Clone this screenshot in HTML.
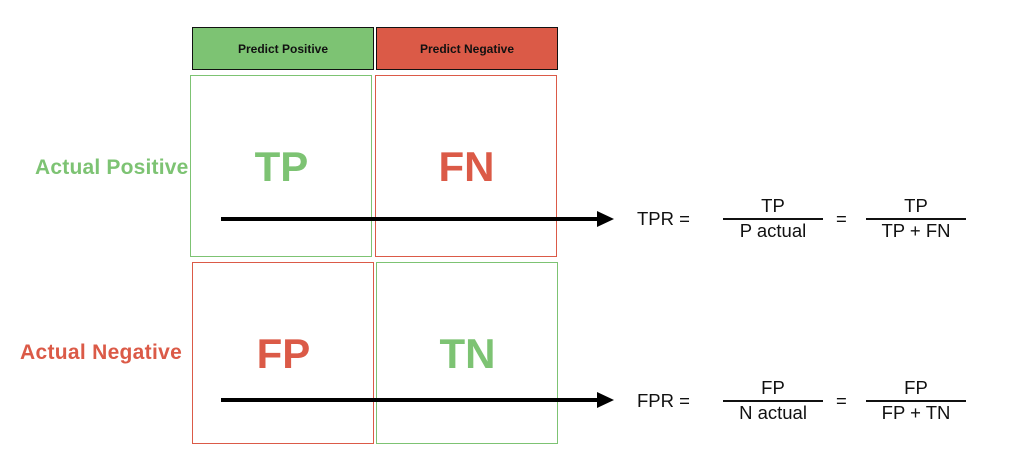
<!DOCTYPE html>
<html><head><style>
body{margin:0;width:1028px;height:472px;background:#fff;position:relative;font-family:"Liberation Sans",sans-serif;overflow:hidden}
div{position:absolute;box-sizing:border-box}
.h{height:43px;border:1.5px solid #111;font-weight:bold;font-size:12px;display:flex;align-items:center;justify-content:center;color:#111}
.c{width:182px;height:182px;border:1px solid}
.big{font-size:42px;font-weight:bold;width:183px;text-align:center}
.lab{font-size:21px;font-weight:bold}
.t{font-size:18.5px;color:#111;text-align:center}
.ln{height:1.5px;background:#111}
</style></head><body>
<div class="h" style="left:192px;top:27px;width:182px;background:#7DC373">Predict Positive</div>
<div class="h" style="left:376px;top:27px;width:182px;background:#DB5A47">Predict Negative</div>
<div class="c" style="left:190px;top:75px;border-color:#7DC373"></div>
<div class="c" style="left:375px;top:75px;border-color:#DB5A47"></div>
<div class="c" style="left:192px;top:262px;border-color:#DB5A47"></div>
<div class="c" style="left:376px;top:262px;border-color:#7DC373"></div>
<div class="big" style="left:190px;top:143px;color:#7DC373">TP</div>
<div class="big" style="left:375px;top:143px;color:#DB5A47">FN</div>
<div class="big" style="left:192px;top:330px;color:#DB5A47">FP</div>
<div class="big" style="left:376px;top:330px;color:#7DC373">TN</div>
<div class="lab" style="left:35px;top:156px;color:#7DC373;width:152px;white-space:nowrap;letter-spacing:0.2px">Actual Positive</div>
<div class="lab" style="left:20px;top:341px;color:#DB5A47;white-space:nowrap;letter-spacing:0.3px">Actual Negative</div>
<svg style="position:absolute;left:0;top:0" width="1028" height="472">
<line x1="221" y1="219" x2="600" y2="219" stroke="#000" stroke-width="4"/>
<polygon points="597,211 614,219 597,227" fill="#000"/>
<line x1="221" y1="400" x2="600" y2="400" stroke="#000" stroke-width="4"/>
<polygon points="597,392 614,400 597,408" fill="#000"/>
</svg>
<div class="t" style="left:637px;top:208px;text-align:left">TPR =</div>
<div class="t" style="left:723px;top:195px;width:100px">TP</div>
<div class="ln" style="left:723px;top:218px;width:100px"></div>
<div class="t" style="left:723px;top:220px;width:100px">P actual</div>
<div class="t" style="left:836px;top:208px">=</div>
<div class="t" style="left:866px;top:195px;width:100px">TP</div>
<div class="ln" style="left:866px;top:218px;width:100px"></div>
<div class="t" style="left:866px;top:220px;width:100px">TP + FN</div>
<div class="t" style="left:637px;top:390px;text-align:left">FPR =</div>
<div class="t" style="left:723px;top:377px;width:100px">FP</div>
<div class="ln" style="left:723px;top:400px;width:100px"></div>
<div class="t" style="left:723px;top:402px;width:100px">N actual</div>
<div class="t" style="left:836px;top:390px">=</div>
<div class="t" style="left:866px;top:377px;width:100px">FP</div>
<div class="ln" style="left:866px;top:400px;width:100px"></div>
<div class="t" style="left:866px;top:402px;width:100px">FP + TN</div>
</body></html>
